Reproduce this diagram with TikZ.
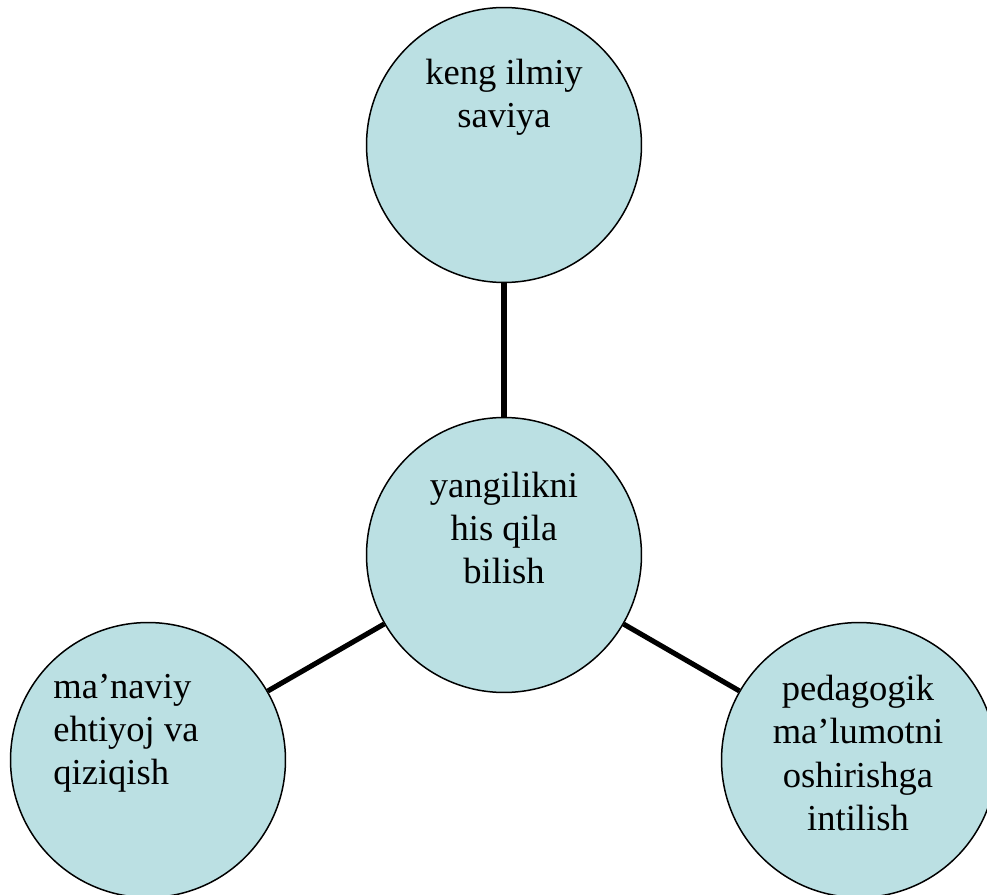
\documentclass[tikz,border=0pt]{standalone}
\usepackage{fontspec}
\setmainfont{Liberation Serif}
\definecolor{circfill}{RGB}{187,224,227}
\tikzset{
  circ/.style={circle, draw=black, line width=0.85pt, fill=circfill, minimum size=5.5cm, inner sep=0pt},
  conn/.style={line width=2.9pt},
  lbl/.style={font=\fontsize{20.8}{24.6}\selectfont, inner sep=0pt}
}

\begin{document}
\begin{tikzpicture}[x=0.02cm, y=-0.02cm]
\useasboundingbox (0,0) rectangle (987,895);
\clip (0,0) rectangle (987,895);
\node[circ] (top) at (504,145) {};
\node[circ] (mid) at (504,555) {};
\node[circ] (left) at (148,760) {};
\node[circ] (right) at (859,760) {};
\draw[conn] (mid) -- (top);
\draw[conn] (mid) -- (left);
\draw[conn] (mid) -- (right);
\node[lbl, align=center] (toptext) at (504,97) {keng ilmiy\\saviya};
\node[lbl, align=center] (midtext) at (504,528) {yangilikni\\his qila\\bilish};
\node[lbl, align=left, anchor=west] (lefttext) at (53,733) {ma’naviy\\ehtiyoj va\\qiziqish};
\node[lbl, align=center] (righttext) at (858,753) {pedagogik\\ma’lumotni\\oshirishga\\intilish};
\end{tikzpicture}
\end{document}
